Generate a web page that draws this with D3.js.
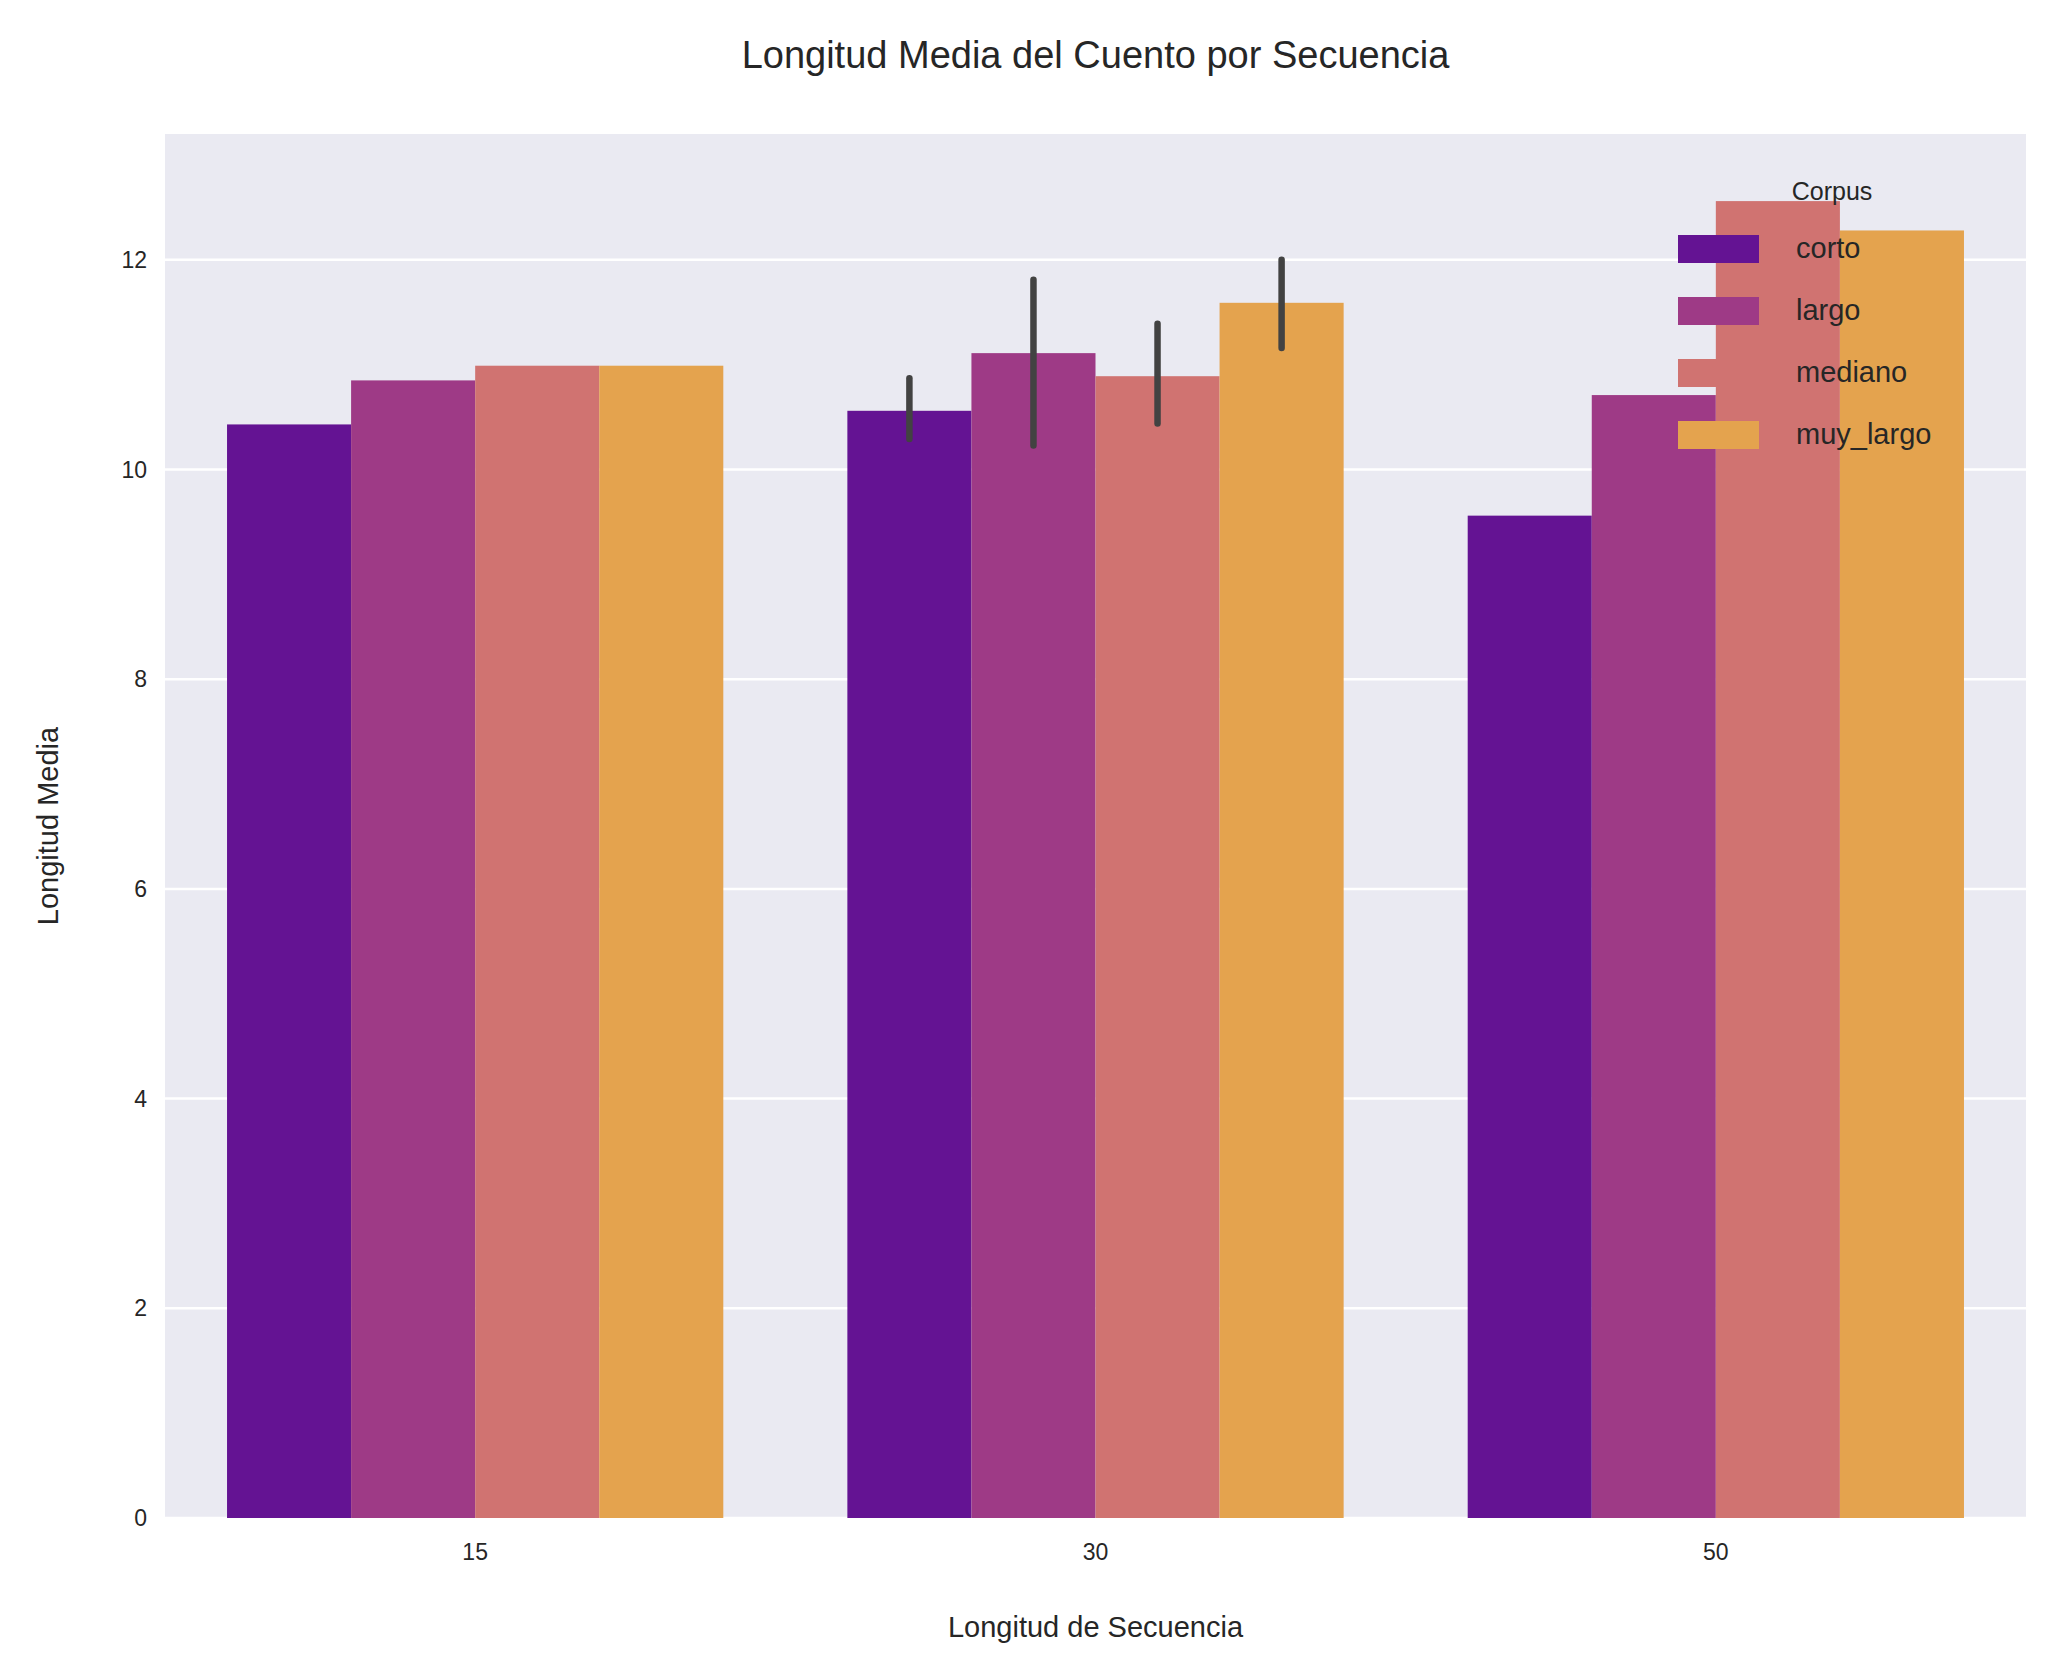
<!DOCTYPE html>
<html><head><meta charset="utf-8">
<script src="https://cdn.jsdelivr.net/npm/d3@7"></script>
<style>body{margin:0;background:#fff;font-family:"Liberation Sans",Arial,sans-serif}</style>
</head><body><svg id="c" width="2056" height="1680"></svg>
<script>
const categories = ["15","30","50"];
const series = ["corto","largo","mediano","muy_largo"];
const colors = ["#641393","#9e3a86","#d07371","#e4a34e"];
const values = {
  corto:     [10.43, 10.56, 9.56],
  largo:     [10.85, 11.11, 10.71],
  mediano:   [10.99, 10.89, 12.56],
  muy_largo: [10.99, 11.59, 12.28]
};
const errLow  = { corto:[null,10.29,null], largo:[null,10.23,null], mediano:[null,10.44,null], muy_largo:[null,11.16,null] };
const errHigh = { corto:[null,10.87,null], largo:[null,11.81,null], mediano:[null,11.39,null], muy_largo:[null,12.00,null] };
const yTicks = [0,2,4,6,8,10,12];

const svg = d3.select("#c");
const L=165, R=2026, T=134, B=1518;
svg.append("rect").attr("x",L).attr("y",T).attr("width",R-L).attr("height",B-T).attr("fill","#eaeaf2");
const x = d3.scaleBand().domain(categories).range([L,R]).paddingInner(0.2).paddingOuter(0.1);
const xs = d3.scaleBand().domain(series).range([0,x.bandwidth()]);
const y = d3.scaleLinear().domain([0,13.2]).range([B,T]);

svg.append("g").selectAll("line").data(yTicks).join("line")
  .attr("x1",L).attr("x2",R).attr("y1",d=>y(d)).attr("y2",d=>y(d)).attr("stroke","#fff").attr("stroke-width",2.5);

series.forEach((s,i)=>{
  svg.append("g").selectAll("rect").data(categories).join("rect")
    .attr("x",c=>x(c)+xs(s)).attr("width",xs.bandwidth())
    .attr("y",(c,j)=>y(values[s][j])).attr("height",(c,j)=>B-y(values[s][j]))
    .attr("fill",colors[i]);
});
series.forEach(s=>{
  categories.forEach((c,j)=>{
    if(errLow[s][j]==null) return;
    svg.append("line").attr("x1",x(c)+xs(s)+xs.bandwidth()/2).attr("x2",x(c)+xs(s)+xs.bandwidth()/2)
      .attr("y1",y(errLow[s][j])).attr("y2",y(errHigh[s][j]))
      .attr("stroke","#424242").attr("stroke-width",6.5).attr("stroke-linecap","round");
  });
});

const tc="#262626";
yTicks.forEach(t=>svg.append("text").attr("x",L-18).attr("y",y(t)+8).attr("text-anchor","end")
  .attr("font-size",23).attr("fill",tc).text(t));
categories.forEach(c=>svg.append("text").attr("x",x(c)+x.bandwidth()/2).attr("y",B+42).attr("text-anchor","middle")
  .attr("font-size",23).attr("fill",tc).text(c));
svg.append("text").attr("x",(L+R)/2).attr("y",1637).attr("text-anchor","middle").attr("font-size",29).attr("fill",tc).text("Longitud de Secuencia");
svg.append("text").attr("transform",`translate(58,${(T+B)/2}) rotate(-90)`).attr("text-anchor","middle").attr("font-size",29).attr("fill",tc).text("Longitud Media");
svg.append("text").attr("x",(L+R)/2).attr("y",68).attr("text-anchor","middle").attr("font-size",38).attr("fill",tc).text("Longitud Media del Cuento por Secuencia");

svg.append("text").attr("x",1832).attr("y",200).attr("text-anchor","middle").attr("font-size",25).attr("fill",tc).text("Corpus");
series.forEach((s,i)=>{
  const yy=249+i*62;
  svg.append("rect").attr("x",1678).attr("y",yy-14).attr("width",81).attr("height",28).attr("fill",colors[i]);
  svg.append("text").attr("x",1796).attr("y",yy+9).attr("font-size",29).attr("fill",tc).text(s);
});
</script></body></html>
